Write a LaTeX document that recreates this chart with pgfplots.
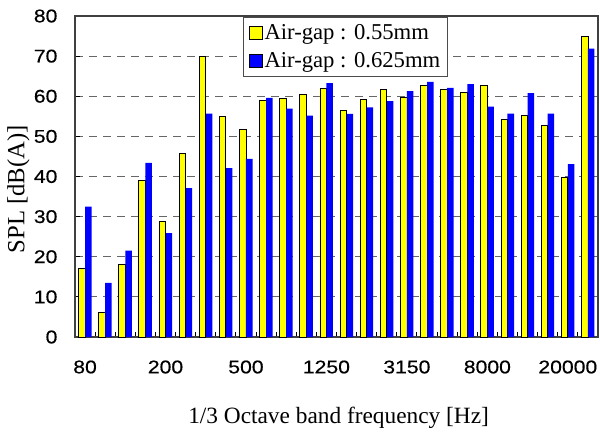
\documentclass[border=0pt]{standalone}
\usepackage{fontspec}
\setmainfont{Liberation Serif}
\newfontfamily\numfont[FakeStretch=1.15,FakeBold=0.4]{Liberation Sans}
\usepackage{pgfplots}
\pgfplotsset{compat=1.18}
\definecolor{ybar}{RGB}{255,255,0}
\definecolor{bbar}{RGB}{0,0,255}
\begin{document}
\begin{tikzpicture}
\useasboundingbox (-56.25pt,-75pt) rectangle (393.75pt,252.75pt);
\begin{axis}[
  scale only axis,
  width=392.25pt, height=240.75pt,
  xmin=-0.5, xmax=25.5,
  ymin=0, ymax=80,
  ybar=0pt, bar width=4.9pt,
  xtick={0,4,8,12,16,20,24},
  xticklabels={80,200,500,1250,3150,8000,20000},
  minor xtick={0.5,1.5,...,24.5},
  major x tick style={draw=none},
  minor tick length=4pt,
  xtick pos=bottom, ytick pos=left,
  tick align=inside,
  ytick={0,10,...,80},
  major tick length=4pt,
  tick style={black, line width=0.7pt},
  ymajorgrids,
  major grid style={black!60, line width=0.9pt, dash pattern=on 6pt off 4.5pt},
  axis line style={black!75, line width=0.8pt},
  /pgf/number format/assume math mode=true,
  ticklabel style={font=\numfont\fontsize{13.8}{13.8}\selectfont},
  xticklabel style={anchor=center, inner sep=0pt, yshift=-22.5pt},
  yticklabel style={anchor=east, inner sep=0pt, xshift=-13pt},
  xlabel={1/3 Octave band frequency [Hz]},
  ylabel={SPL [dB(A)]},
  label style={font=\fontsize{17.5}{17.5}\selectfont},
  xlabel style={at={(axis description cs:0.504,-0.2523)}, anchor=center},
  ylabel style={font=\fontsize{18.5}{18.5}\selectfont, at={(axis description cs:-0.108,0.46)}, anchor=center},
  legend style={at={(0.3212,0.997)}, anchor=north west, draw=black!70, line width=0.6pt,
    font=\fontsize{17}{17}\selectfont, row sep=5pt, inner xsep=4pt, inner ysep=4pt,
    nodes={inner sep=1.5pt}},
  legend cell align=left,
  legend image code/.code={\draw[#1] (0pt,-4.9pt) rectangle (9.75pt,4.9pt);},
]
\addplot[fill=ybar, draw=black, line width=0.6pt] coordinates {
(0,17.0) (1,6.1) (2,18.1) (3,39.0) (4,28.9) (5,45.8) (6,70.0) (7,54.9) (8,51.8) (9,59.0)
(10,59.5) (11,60.4) (12,62.0) (13,56.5) (14,59.2) (15,61.7) (16,59.7) (17,62.6) (18,61.6)
(19,61.0) (20,62.8) (21,54.3) (22,55.2) (23,52.7) (24,39.8) (25,74.9)};
\addplot[fill=bbar, draw=none] coordinates {
(0,32.5) (1,13.5) (2,21.5) (3,43.4) (4,25.9) (5,37.1) (6,55.7) (7,42.1) (8,44.4) (9,59.6)
(10,56.9) (11,55.2) (12,63.3) (13,55.6) (14,57.2) (15,58.8) (16,61.3) (17,63.6) (18,62.1)
(19,63.0) (20,57.4) (21,55.7) (22,60.8) (23,55.7) (24,43.1) (25,71.9)};
\legend{Air-gap : 0.55mm, Air-gap : 0.625mm}
\end{axis}
\end{tikzpicture}
\end{document}
